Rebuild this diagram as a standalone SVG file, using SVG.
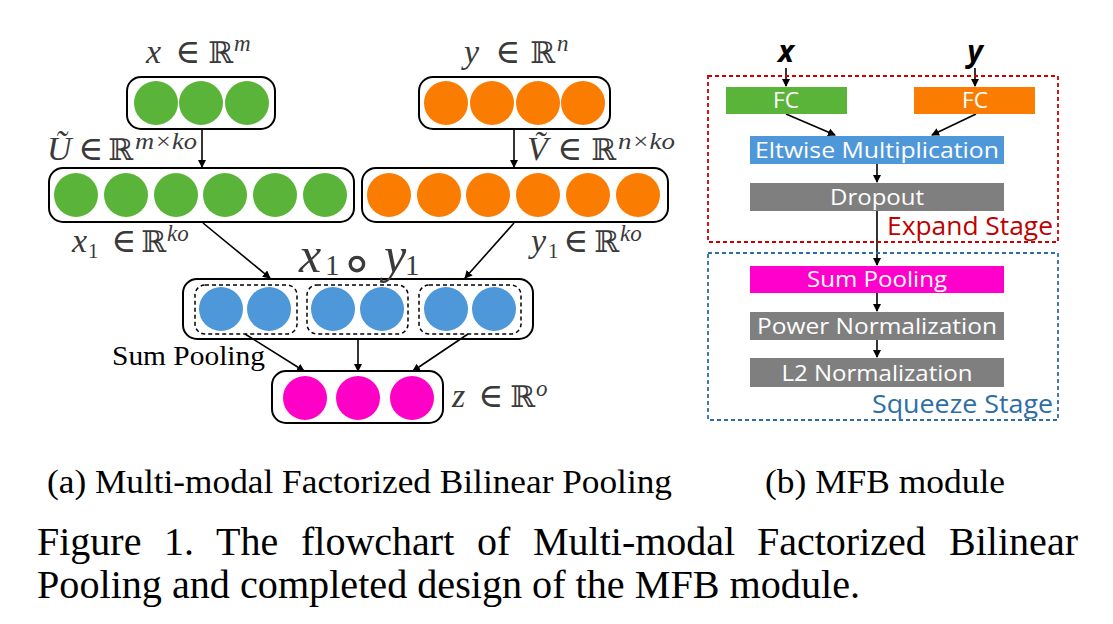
<svg xmlns="http://www.w3.org/2000/svg" width="1113" height="624" viewBox="0 0 1113 624">
<style>
.box{fill:none;stroke:#000;stroke-width:2}
.dash{fill:none;stroke:#000;stroke-width:1.5;stroke-dasharray:4 3}
.g{fill:#5bb43a}.o{fill:#fa7c00}.b{fill:#4e97d9}.p{fill:#ff00c6}
.math{font-family:"Liberation Serif","DejaVu Serif",serif;font-size:34px;fill:#3a3a3a}
.i{font-style:italic}
.R{font-size:30px}
.sup{font-size:23px;font-style:italic}
.sub{font-size:21px}
.ln{stroke:#000;stroke-width:1.6;fill:none}
.lbl{font-family:"Open Sans","Noto Sans",sans-serif;font-size:22px;fill:#fff;text-anchor:middle}
.cap{font-family:"Liberation Serif",serif;fill:#000}
</style>
<defs>
<marker id="ah" markerWidth="8" markerHeight="8" refX="7" refY="4" orient="auto" markerUnits="userSpaceOnUse">
<path d="M0,0 L8,4 L0,8 Z" fill="#000"/>
</marker>
</defs>

<g id="connectors">
<line class="ln" x1="202" y1="129" x2="202" y2="167" marker-end="url(#ah)"/>
<line class="ln" x1="514" y1="129" x2="514" y2="167" marker-end="url(#ah)"/>
<line class="ln" x1="203" y1="223" x2="270" y2="278" marker-end="url(#ah)"/>
<line class="ln" x1="514" y1="223" x2="465" y2="278" marker-end="url(#ah)"/>
<line class="ln" x1="245" y1="334" x2="304" y2="371" marker-end="url(#ah)"/>
<line class="ln" x1="358" y1="339" x2="358" y2="371" marker-end="url(#ah)"/>
<line class="ln" x1="468" y1="334" x2="413" y2="371" marker-end="url(#ah)"/>
<line class="ln" x1="786" y1="68" x2="786" y2="86" marker-end="url(#ah)"/>
<line class="ln" x1="975" y1="68" x2="975" y2="86" marker-end="url(#ah)"/>
<line class="ln" x1="786" y1="114" x2="835" y2="135" marker-end="url(#ah)"/>
<line class="ln" x1="976" y1="114" x2="932" y2="135" marker-end="url(#ah)"/>
<line class="ln" x1="877" y1="164" x2="877" y2="182" marker-end="url(#ah)"/>
<line class="ln" x1="877" y1="211" x2="877" y2="265" marker-end="url(#ah)"/>
<line class="ln" x1="877" y1="293" x2="877" y2="311" marker-end="url(#ah)"/>
<line class="ln" x1="877" y1="340" x2="877" y2="357" marker-end="url(#ah)"/>
</g>

<g id="x-input">
<rect class="box" x="127" y="77" width="148" height="52" rx="14"/>
<circle class="g" cx="156" cy="103" r="22"/><circle class="g" cx="201" cy="103" r="22"/><circle class="g" cx="247" cy="103" r="22"/>
<text class="math"><tspan class="i" x="146" y="63">x</tspan><tspan x="175" y="63">∈</tspan><tspan class="R" x="208" y="63">ℝ</tspan><tspan class="sup" x="234" y="51">m</tspan></text>
</g>
<g id="y-input">
<rect class="box" x="419" y="77" width="191" height="52" rx="14"/>
<circle class="o" cx="446" cy="103" r="22"/><circle class="o" cx="492" cy="103" r="22"/><circle class="o" cx="538" cy="103" r="22"/><circle class="o" cx="583" cy="103" r="22"/>
<text class="math"><tspan class="i" x="464" y="63">y</tspan><tspan x="495" y="63">∈</tspan><tspan class="R" x="530" y="63">ℝ</tspan><tspan class="sup" x="557" y="51">n</tspan></text>
</g>
<g id="x1">
<rect class="box" x="49" y="168" width="305" height="54" rx="14"/>
<circle class="g" cx="76" cy="195" r="22"/><circle class="g" cx="126" cy="195" r="22"/><circle class="g" cx="176" cy="195" r="22"/><circle class="g" cx="225" cy="195" r="22"/><circle class="g" cx="275" cy="195" r="22"/><circle class="g" cx="325" cy="195" r="22"/>
<text class="math"><tspan class="i" x="47" y="160">Ũ</tspan><tspan x="78" y="160">∈</tspan><tspan class="R" x="108" y="160">ℝ</tspan><tspan class="sup" x="135" y="149" textLength="62" lengthAdjust="spacingAndGlyphs">m×ko</tspan></text>
<text class="math"><tspan class="i" x="72" y="252">x</tspan><tspan class="sub" x="88" y="258">1</tspan><tspan x="111" y="252">∈</tspan><tspan class="R" x="141" y="252">ℝ</tspan><tspan class="sup" x="167" y="241">ko</tspan></text>
</g>
<g id="y1">
<rect class="box" x="362" y="168" width="306" height="54" rx="14"/>
<circle class="o" cx="389" cy="195" r="22"/><circle class="o" cx="439" cy="195" r="22"/><circle class="o" cx="488" cy="195" r="22"/><circle class="o" cx="538" cy="195" r="22"/><circle class="o" cx="588" cy="195" r="22"/><circle class="o" cx="638" cy="195" r="22"/>
<text class="math"><tspan class="i" x="527" y="160">Ṽ</tspan><tspan x="557" y="160">∈</tspan><tspan class="R" x="591" y="160">ℝ</tspan><tspan class="sup" x="618" y="149" textLength="57" lengthAdjust="spacingAndGlyphs">n×ko</tspan></text>
<text class="math"><tspan class="i" x="531" y="252">y</tspan><tspan class="sub" x="548" y="258">1</tspan><tspan x="563" y="252">∈</tspan><tspan class="R" x="594" y="252">ℝ</tspan><tspan class="sup" x="620" y="241">ko</tspan></text>
</g>
<g id="product">
<rect class="box" x="183" y="279" width="350" height="60" rx="14"/>
<rect class="dash" x="195" y="285" width="102" height="49" rx="10"/>
<rect class="dash" x="307" y="285" width="101" height="49" rx="10"/>
<rect class="dash" x="419" y="285" width="102" height="49" rx="10"/>
<circle class="b" cx="221" cy="309" r="22"/><circle class="b" cx="269" cy="309" r="22"/><circle class="b" cx="333" cy="309" r="22"/><circle class="b" cx="382" cy="309" r="22"/><circle class="b" cx="446" cy="309" r="22"/><circle class="b" cx="494" cy="309" r="22"/>
<text class="math" style="font-size:50px"><tspan class="i" x="299" y="272">x</tspan><tspan font-size="29" x="325" y="275">1</tspan><tspan font-family="DejaVu Sans,sans-serif" font-size="54" x="340" y="281">∘</tspan><tspan class="i" x="384" y="272">y</tspan><tspan font-size="29" x="405" y="275">1</tspan></text>
<text class="cap" x="112" y="365" font-size="28" textLength="153" lengthAdjust="spacingAndGlyphs">Sum Pooling</text>
</g>
<g id="z">
<rect class="box" x="272" y="371" width="171" height="52" rx="14"/>
<circle class="p" cx="305" cy="398" r="22"/><circle class="p" cx="358" cy="398" r="22"/><circle class="p" cx="412" cy="398" r="22"/>
<text class="math"><tspan class="i" x="452" y="407">z</tspan><tspan x="478" y="407">∈</tspan><tspan class="R" x="510" y="407">ℝ</tspan><tspan class="sup" x="536" y="396">o</tspan></text>
</g>

<g id="expand-stage">
<rect x="708" y="76" width="350" height="166" fill="none" stroke="#cc0000" stroke-width="1.8" stroke-dasharray="4 3"/>
<text x="1053" y="235" font-family="Open Sans,Noto Sans,sans-serif" font-size="25" fill="#c00000" text-anchor="end" textLength="166" lengthAdjust="spacingAndGlyphs">Expand Stage</text>
</g>
<g id="squeeze-stage">
<rect x="708" y="253" width="350" height="167" fill="none" stroke="#2e6ea6" stroke-width="1.8" stroke-dasharray="4 3"/>
<text x="1053" y="413" font-family="Open Sans,Noto Sans,sans-serif" font-size="25" fill="#2e6ea6" text-anchor="end" textLength="181" lengthAdjust="spacingAndGlyphs">Squeeze Stage</text>
</g>
<g id="in-x"><text x="786" y="62" font-family="Open Sans,Noto Sans,sans-serif" font-size="30" font-weight="bold" font-style="italic" text-anchor="middle">x</text></g>
<g id="in-y"><text x="975" y="62" font-family="Open Sans,Noto Sans,sans-serif" font-size="30" font-weight="bold" font-style="italic" text-anchor="middle">y</text></g>
<g id="fc-x"><rect x="726" y="87" width="121" height="27" fill="#5bb43a"/><text class="lbl" x="786" y="108" textLength="26" lengthAdjust="spacingAndGlyphs">FC</text></g>
<g id="fc-y"><rect x="914" y="87" width="121" height="27" fill="#fa7c00"/><text class="lbl" x="975" y="108" textLength="26" lengthAdjust="spacingAndGlyphs">FC</text></g>
<g id="eltwise"><rect x="750" y="136" width="254" height="28" fill="#4e97d9"/><text class="lbl" x="877" y="158" textLength="244" lengthAdjust="spacingAndGlyphs">Eltwise Multiplication</text></g>
<g id="dropout"><rect x="750" y="183" width="254" height="28" fill="#7f7f7f"/><text class="lbl" x="877" y="205" textLength="94" lengthAdjust="spacingAndGlyphs">Dropout</text></g>
<g id="sumpool"><rect x="750" y="266" width="254" height="27" fill="#ff00cc"/><text class="lbl" x="877" y="287" textLength="140" lengthAdjust="spacingAndGlyphs">Sum Pooling</text></g>
<g id="power"><rect x="750" y="312" width="254" height="28" fill="#7f7f7f"/><text class="lbl" x="877" y="334" textLength="240" lengthAdjust="spacingAndGlyphs">Power Normalization</text></g>
<g id="l2"><rect x="750" y="358" width="254" height="29" fill="#7f7f7f"/><text class="lbl" x="877" y="381" textLength="191" lengthAdjust="spacingAndGlyphs">L2 Normalization</text></g>

<g id="captions">
<text class="cap" x="47" y="493" font-size="34" textLength="625" lengthAdjust="spacingAndGlyphs">(a) Multi-modal Factorized Bilinear Pooling</text>
<text class="cap" x="765" y="493" font-size="34" textLength="240" lengthAdjust="spacingAndGlyphs">(b) MFB module</text>
<text class="cap" y="555" font-size="40"><tspan x="37">Figure</tspan><tspan x="164">1.</tspan><tspan x="216">The</tspan><tspan x="301">flowchart</tspan><tspan x="477">of</tspan><tspan x="533">Multi-modal</tspan><tspan x="757">Factorized</tspan><tspan x="949" textLength="129" lengthAdjust="spacingAndGlyphs">Bilinear</tspan></text>
<text class="cap" x="37" y="598" font-size="40" textLength="823" lengthAdjust="spacingAndGlyphs">Pooling and completed design of the MFB module.</text>
</g>
</svg>
